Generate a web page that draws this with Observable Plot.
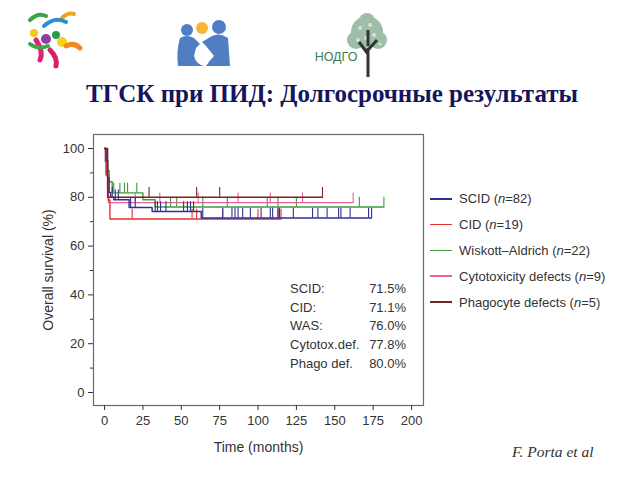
<!DOCTYPE html>
<html><head><meta charset="utf-8">
<script src="https://cdn.jsdelivr.net/npm/d3@7"></script>
<script src="https://cdn.jsdelivr.net/npm/@observablehq/plot@0.6"></script>
<style>
body{margin:0;width:640px;height:480px;background:#fff;position:relative;overflow:hidden;font-family:"Liberation Sans",Arial,sans-serif}
#logos{position:absolute;left:0;top:0}
#title{position:absolute;left:12px;width:640px;top:80px;text-align:center;font:bold 25px "Liberation Serif","Times New Roman",serif;color:#15155c;white-space:nowrap}
#chart{position:absolute;left:0;top:120px}
#legend{position:absolute;left:430px;top:186px;font-size:13px;color:#333}
#legend .row{height:25.8px;display:flex;align-items:center;white-space:nowrap}
#legend .sw{width:22px;height:1.6px;margin-right:7px}
#stats{position:absolute;left:290px;top:281px;width:116px;font-size:13px;color:#333}
#stats .row{height:18.7px;display:flex;justify-content:space-between;white-space:nowrap}
#cite{position:absolute;left:512px;top:443px;font:italic 15.5px "Liberation Serif","DejaVu Serif",serif;color:#333}
</style></head>
<body>
<svg id="logos" width="640" height="80">
  <!-- left logo -->
  <path d="M30 20 Q38 12 46 16" stroke="#3aa447" stroke-width="4" fill="none" stroke-linecap="round"/>
  <path d="M62 18 Q68 12 74 14" stroke="#f2a41c" stroke-width="4" fill="none" stroke-linecap="round"/>
  <path d="M44 26 Q55 16 66 22" stroke="#2a8fd6" stroke-width="4" fill="none" stroke-linecap="round"/>
  <circle cx="34" cy="33" r="4" fill="#f3c623"/>
  <circle cx="46" cy="39" r="5" fill="#8e3fa3"/>
  <circle cx="56" cy="35" r="4" fill="#2a9a4a"/>
  <circle cx="62" cy="42" r="5" fill="#f4d21f"/>
  <path d="M36 40 Q44 52 40 60" stroke="#e2207a" stroke-width="5" fill="none" stroke-linecap="round"/>
  <path d="M30 44 Q38 50 48 46" stroke="#39a845" stroke-width="4" fill="none" stroke-linecap="round"/>
  <path d="M66 46 Q74 42 80 48" stroke="#f08a25" stroke-width="5" fill="none" stroke-linecap="round"/>
  <path d="M50 50 Q58 58 56 66" stroke="#d6206e" stroke-width="5" fill="none" stroke-linecap="round"/>
  <!-- middle logo -->
  <circle cx="202" cy="28" r="6" fill="#f5b731"/>
  <circle cx="187" cy="30" r="6" fill="#4f7fc2"/>
  <path d="M180 38 Q186 34 194 38 L200 44 L196 48 L194 56 Q196 64 204 66 L178 66 Q176 52 180 38 Z" fill="#4f7fc2"/>
  <circle cx="219" cy="27" r="7" fill="#4f7fc2"/>
  <path d="M212 36 Q220 32 228 38 L230 66 L206 66 Q210 60 214 56 L206 46 L202 42 Z" fill="#4f7fc2"/>
  <!-- right logo -->
  <g fill="#8fb39a" opacity="0.85">
    <circle cx="367" cy="32" r="16"/><circle cx="356" cy="40" r="9"/><circle cx="378" cy="40" r="9"/><circle cx="367" cy="21" r="8"/>
  </g>
  <g fill="#fff" opacity="0.55">
    <circle cx="360" cy="28" r="2"/><circle cx="370" cy="25" r="2"/><circle cx="374" cy="35" r="2"/><circle cx="358" cy="40" r="2"/><circle cx="366" cy="38" r="2"/><circle cx="380" cy="44" r="1.5"/>
  </g>
  <path d="M368 77 L368 48 M368 54 L359 42 M368 50 L377 40 M368 46 L368 30" stroke="#333" stroke-width="3" fill="none"/>
  <text x="336" y="61" text-anchor="middle" font-family="Liberation Sans, Arial" font-size="12.5" fill="#3d7d5c">НОДГО</text>
</svg>
<div id="title">ТГСК при ПИД: Долгосрочные результаты</div>
<div id="chart"></div>
<div id="legend"></div>
<div id="stats"></div>
<div id="cite">F. Porta et al</div>
<script>
// ---- data ----
const groups = ["SCID", "CID", "Wiskott–Aldrich", "Cytotoxicity defects", "Phagocyte defects"];
const groupN = [82, 19, 22, 9, 5];
const groupColors = ["#2e3192", "#e3312d", "#3b9e3b", "#e8609c", "#7a2222"];

const scidTimes = [0, 1, 2, 3, 4, 6, 16, 31, 63, 174];
const scidSurv = [100, 95, 88, 82, 80, 79, 75.8, 74.2, 71.5, 71.5];
const scidCensor = [5, 7, 9, 17, 20, 33, 34.5, 36.5, 40, 51.5, 54, 56, 58, 64, 77, 83, 85, 87, 90, 95, 102, 108, 109.5, 113, 114, 123, 135.5, 139, 145, 152.5, 154, 160, 172, 174];

const cidTimes = [0, 0.5, 1, 2, 2.5, 3.5, 115];
const cidSurv = [100, 94.7, 89.5, 84.2, 78.9, 71.1, 71.1];
const cidCensor = [18, 57, 60, 77, 100, 113, 115];

const wasTimes = [0, 1, 2, 3, 5, 25, 33, 182];
const wasSurv = [100, 95.5, 90.9, 86.4, 81.8, 79, 76, 76];
const wasCensor = [6, 10, 13, 15, 21, 43, 47, 64, 80, 106, 113, 125, 166, 182];

const cytoTimes = [0, 1, 2.5, 162];
const cytoSurv = [100, 88.9, 77.8, 77.8];
const cytoCensor = [20, 36, 61, 87, 108, 129, 162];

const phagoTimes = [0, 2, 142];
const phagoSurv = [100, 80, 80];
const phagoCensor = [29, 60, 75, 142];

const statLabels = ["SCID:", "CID:", "WAS:", "Cytotox.def.", "Phago def."];
const statValues = [71.5, 71.1, 76.0, 77.8, 80.0];

const xTicks = [0, 25, 50, 75, 100, 125, 150, 175, 200];
const yTicks = [0, 20, 40, 60, 80, 100];
const yMinorTicks = [10, 30, 50, 70, 90];

// ---- build ----
function build(name, times, surv, cens) {
  const steps = times.map((t, i) => ({series: name, t, s: surv[i]}));
  const sAt = t => { let s = surv[0]; for (let i = 0; i < times.length; i++) if (times[i] <= t) s = surv[i]; return s; };
  const ticks = cens.map(t => ({series: name, t, s: sAt(t)}));
  return {steps, ticks};
}
const series = [
  build(groups[2], wasTimes, wasSurv, wasCensor),
  build(groups[3], cytoTimes, cytoSurv, cytoCensor),
  build(groups[1], cidTimes, cidSurv, cidCensor),
  build(groups[0], scidTimes, scidSurv, scidCensor),
  build(groups[4], phagoTimes, phagoSurv, phagoCensor)
];
const color = {domain: groups, range: groupColors};
const marks = [
  Plot.frame({stroke: "#6a6a6a", strokeWidth: 1.2}),
  Plot.axisX({ticks: xTicks, tickSize: 5, tickPadding: 5, label: "Time (months)", labelAnchor: "center", labelOffset: 46, labelArrow: "none"}),
  Plot.axisY({ticks: yTicks, tickSize: 5, tickPadding: 4, label: "Overall survival (%)", labelAnchor: "center", labelOffset: 50, labelArrow: "none"}),
  Plot.axisY({ticks: yMinorTicks, tickSize: 3, tickFormat: () => "", label: null})
];
for (const s of series) {
  marks.push(Plot.line(s.steps, {x: "t", y: "s", stroke: "series", curve: "step-after", strokeWidth: 1.4}));
  marks.push(Plot.ruleX(s.ticks, {x: "t", y1: "s", y2: d => d.s + 4, stroke: "series", strokeWidth: 1.1}));
}
const chart = Plot.plot({
  width: 640, height: 340,
  marginTop: 14, marginBottom: 55, marginLeft: 93, marginRight: 217,
  x: {domain: [-7.2, 207.8]},
  y: {domain: [-5.33, 105.74]},
  color,
  style: {fontFamily: "'Liberation Sans', Arial, sans-serif", fontSize: "13px", color: "#333", background: "transparent"},
  marks
});
d3.select(chart).selectAll('g[aria-label$="axis label"]').style("font-size", "14px");
document.getElementById("chart").appendChild(chart);

// legend
const leg = document.getElementById("legend");
groups.forEach((g, i) => {
  const row = document.createElement("div"); row.className = "row";
  const sw = document.createElement("span"); sw.className = "sw"; sw.style.background = groupColors[i];
  const tx = document.createElement("span");
  tx.innerHTML = `${g} (<i>n</i>=${groupN[i]})`;
  row.appendChild(sw); row.appendChild(tx); leg.appendChild(row);
});
// stats
const st = document.getElementById("stats");
statLabels.forEach((l, i) => {
  const row = document.createElement("div"); row.className = "row";
  row.innerHTML = `<span>${l}</span><span>${statValues[i].toFixed(1)}%</span>`;
  st.appendChild(row);
});
</script>
</body></html>
